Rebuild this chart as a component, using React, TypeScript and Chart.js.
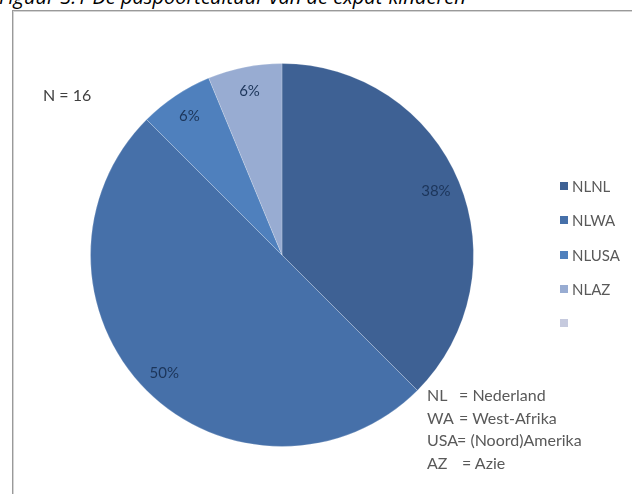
import React, { useEffect, useRef } from "react";
import { Chart, registerables } from "chart.js";

Chart.register(...registerables);

const titleText = "Figuur 3.1 De paspoortcultuur van de expat-kinderen";
const categories = ["NLNL", "NLWA", "NLUSA", "NLAZ", ""];
const counts = [6, 8, 1, 1, 0];
const sliceColors = ["#3e6194", "#4670a9", "#4f80bd", "#98acd2", "#c6cade"];
const sampleNote = "N = 16";
const keyAbbrev = ["NL", "WA", "USA", "AZ"];
const keyMeaning = ["= Nederland", "= West-Afrika", "= (Noord)Amerika", "= Azie"];

const FONT = "Lato, 'Open Sans', 'DejaVu Sans', sans-serif";

const pctLabels = {
  id: "pctLabels",
  afterDatasetsDraw(chart: any) {
    const ctx = chart.ctx;
    const meta = chart.getDatasetMeta(0);
    const data = chart.data.datasets[0].data as number[];
    const total = data.reduce((a: number, b: number) => a + b, 0);
    ctx.save();
    ctx.font = "15px " + FONT;
    ctx.fillStyle = "#1c355a";
    ctx.textAlign = "center";
    ctx.textBaseline = "middle";
    meta.data.forEach((arc: any, i: number) => {
      const v = data[i];
      if (!v) return;
      const p = arc.getProps(["x", "y", "startAngle", "endAngle", "outerRadius"], true);
      const mid = (p.startAngle + p.endAngle) / 2;
      const r = p.outerRadius * 0.87;
      const x = p.x + Math.cos(mid) * r;
      const y = p.y + Math.sin(mid) * r;
      ctx.fillText(Math.round((v / total) * 100) + "%", x, y);
    });
    ctx.restore();
  },
};

export default function App() {
  const canvasRef = useRef<HTMLCanvasElement | null>(null);

  useEffect(() => {
    if (!canvasRef.current) return;
    const chart = new Chart(canvasRef.current, {
      type: "pie",
      data: {
        labels: categories,
        datasets: [
          {
            data: counts,
            backgroundColor: sliceColors,
            borderColor: "rgba(255,255,255,0.2)",
            borderWidth: counts.map((c) => (c ? 1 : 0)),
          },
        ],
      },
      options: {
        responsive: false,
        animation: false,
        maintainAspectRatio: false,
        layout: { padding: { left: 90, top: 62, right: 158, bottom: 46 } },
        plugins: {
          legend: { display: false },
          tooltip: { enabled: false },
        },
      },
      plugins: [pctLabels],
    });
    return () => chart.destroy();
  }, []);

  return (
    <div
      style={{
        position: "fixed",
        left: 0,
        top: 0,
        width: 632,
        height: 494,
        overflow: "hidden",
        background: "#ffffff",
        fontFamily: FONT,
      }}
    >
      <div
        style={{
          position: "absolute",
          left: 12,
          top: 10,
          width: 700,
          height: 600,
          border: "1px solid #9a9a9a",
          boxShadow: "inset 1px 1px 0 #d4d4d4",
        }}
      />
      <div
        style={{
          position: "absolute",
          left: -1,
          top: -13,
          fontSize: 20,
          lineHeight: "20px",
          fontStyle: "italic",
          color: "#000",
          whiteSpace: "nowrap",
          fontFamily: "'Open Sans', sans-serif",
        }}
      >
        {titleText}
      </div>
      <canvas
        ref={canvasRef}
        width={632}
        height={494}
        style={{ position: "absolute", left: 0, top: 0, width: 632, height: 494 }}
      />
      <div
        style={{
          position: "absolute",
          left: 43,
          top: 85,
          fontSize: 16,
          lineHeight: "20px",
          color: "#404040",
          whiteSpace: "nowrap",
        }}
      >
        {sampleNote}
      </div>
      {categories.map((c, i) => (
        <div
          key={i}
          style={{
            position: "absolute",
            left: 560,
            top: 177 + i * 34.3,
            height: 18,
            display: "flex",
            alignItems: "center",
            fontSize: 15,
            color: "#595959",
            whiteSpace: "nowrap",
          }}
        >
          <span
            style={{
              display: "inline-block",
              width: 8,
              height: 8,
              background: sliceColors[i],
              marginRight: 4,
            }}
          />
          <span>{c}</span>
        </div>
      ))}
      {keyAbbrev.map((a, i) => (
        <div
          key={i}
          style={{
            position: "absolute",
            left: 427,
            top: 385 + i * 22.7,
            fontSize: 16,
            lineHeight: "20px",
            color: "#595959",
            whiteSpace: "nowrap",
          }}
        >
          <span style={{ display: "inline-block", width: a === "USA" ? 30 : a === "AZ" ? 35 : 32 }}>{a}</span>
          <span>{keyMeaning[i]}</span>
        </div>
      ))}
    </div>
  );
}
